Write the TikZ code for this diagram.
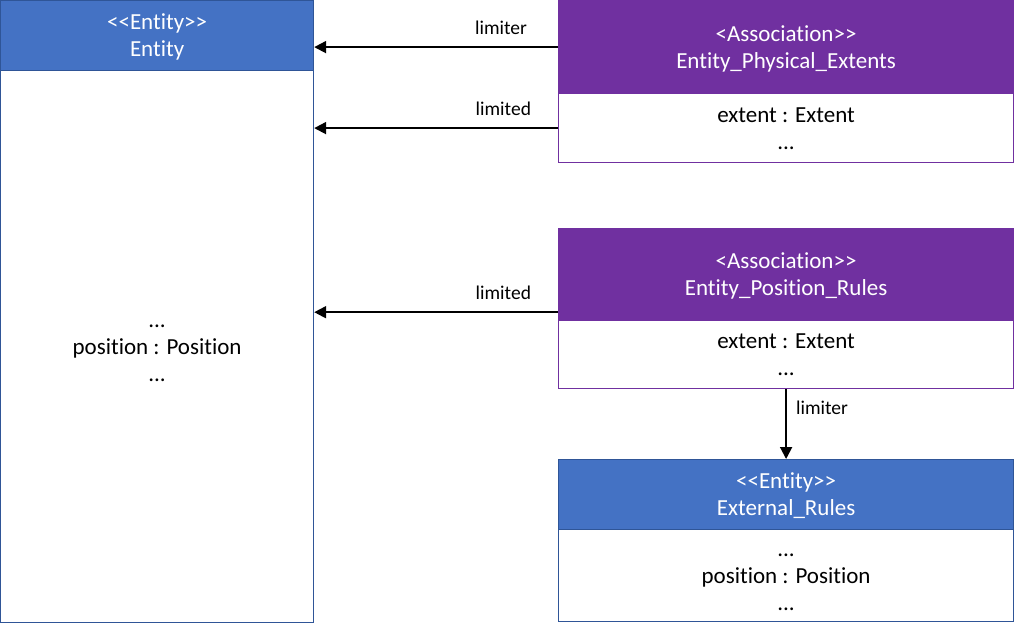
\documentclass[tikz,border=0pt]{standalone}
\usepackage{fontspec}
\setmainfont{Carlito}[Ligatures=NoCommon]
\usetikzlibrary{arrows.meta}
\definecolor{entblue}{HTML}{4472C4}
\definecolor{entborder}{HTML}{2F5597}
\definecolor{asspurple}{HTML}{7030A0}
\newcommand\dlt{<\kern0pt<}
\newcommand\dgt{>\kern0pt>}
\newcommand\ls{\rule[-5pt]{0pt}{25pt}}
\begin{document}
\begin{tikzpicture}[x=1pt,y=-1pt,
  box/.style={rectangle,anchor=north west,inner sep=0pt,align=center,
    font=\fontsize{23}{27}\selectfont,line width=1.2pt},
  enthdr/.style={box,fill=entblue,draw=entborder,text=white},
  entbody/.style={box,fill=white,draw=entborder,text=black},
  asshdr/.style={box,fill=asspurple,draw=asspurple,text=white},
  assbody/.style={box,fill=white,draw=asspurple,text=black},
  arr/.style={line width=2pt,-{Triangle[length=12pt,width=12pt]}},
  lbl/.style={inner sep=0pt,font=\fontsize{19.5}{23}\selectfont,text=black}]
\useasboundingbox (0,0) rectangle (1014,631);
% Entity
\node[entbody,minimum width=313,minimum height=552] (entb) at (0,70)
  {\ls...\\position : Position\\...\ls};
\node[enthdr,minimum width=313,minimum height=70] (enth) at (0,0)
  {\ls\dlt Entity\dgt\\Entity\ls};
% Entity_Physical_Extents
\node[assbody,minimum width=455,minimum height=69] (epeb) at (558,93)
  {\ls extent : Extent\\...\ls};
\node[asshdr,minimum width=455,minimum height=93] (epeh) at (558,0)
  {\ls<Association\dgt\\Entity\_Physical\_Extents\ls};
% Entity_Position_Rules
\node[assbody,minimum width=455,minimum height=68] (eprb) at (558,320)
  {\ls extent : Extent\\...\ls};
\node[asshdr,minimum width=455,minimum height=92] (eprh) at (558,228)
  {\ls<Association\dgt\\Entity\_Position\_Rules\ls};
% External_Rules
\node[entbody,minimum width=455,minimum height=92] (erb) at (558,529)
  {\ls...\\position : Position\\...\ls};
\node[enthdr,minimum width=455,minimum height=70] (erh) at (558,459)
  {\ls\dlt Entity\dgt\\External\_Rules\ls};
% connectors
\draw[arr] (epeh.west) -- (enth.east |- epeh.west)
  node[lbl,pos=0,anchor=base east,xshift=-30pt,yshift=13pt] (l1) {limiter};
\draw[arr] (epeb.west) -- (entb.east |- epeb.west)
  node[lbl,pos=0,anchor=base east,xshift=-26pt,yshift=13pt] (l2) {limited};
\coordinate (a3) at ([yshift=9pt]eprh.south west);
\draw[arr] (a3) -- (entb.east |- a3)
  node[lbl,pos=0,anchor=base east,xshift=-26pt,yshift=13pt] (l3) {limited};
\draw[arr] (eprb.south) -- (erh.north)
  node[lbl,pos=0,anchor=base west,xshift=9pt,yshift=-25pt] (l4) {limiter};
\end{tikzpicture}
\end{document}
